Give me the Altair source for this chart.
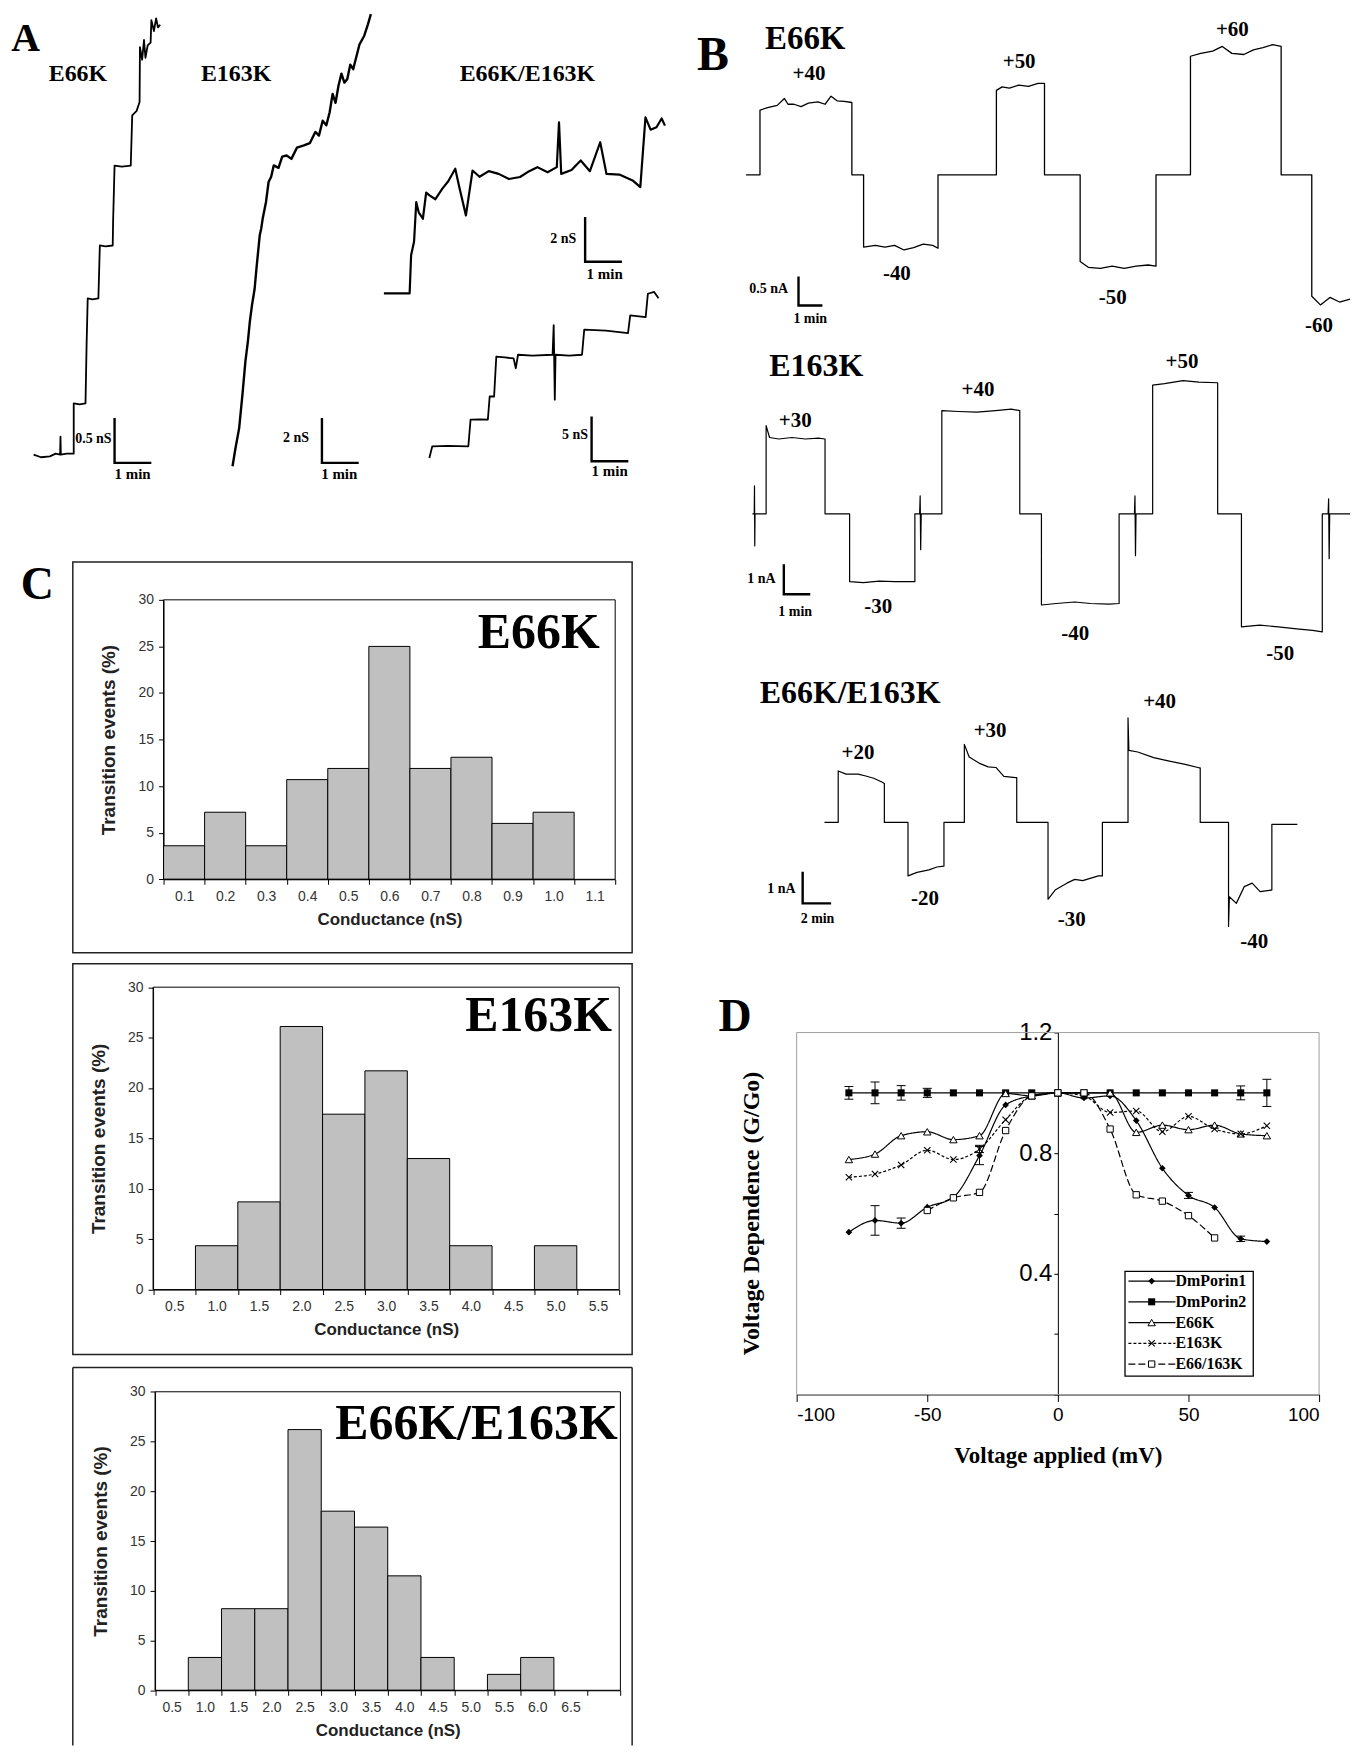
import altair as alt
import pandas as pd

OX, OY = 8, 8          # page margin -> chart origin
W, H = 1343, 1740
SERIF = "Liberation Serif"
SANS = "Liberation Sans"

# ---------------- Panel A : conductance traces (time in min, conductance in nS) -------------
A1_T = [0.00, 0.20, 0.44, 0.60, 0.72, 0.73, 0.74, 0.90, 1.09, 1.09, 1.25, 1.41, 1.44, 1.47, 1.60, 1.76, 1.80, 1.95,
        2.15, 2.16, 2.20, 2.40, 2.64, 2.68, 2.80, 2.88, 2.89, 2.95, 3.00, 3.04, 3.10, 3.18, 3.20, 3.27, 3.33, 3.38, 3.44]
A1_G = [0.00, -0.03, -0.02, 0.01, 0.00, 0.20, 0.00, 0.01, 0.01, 0.57, 0.56, 0.57, 1.23, 1.74, 1.73, 1.74, 2.33, 2.32,
        2.33, 2.59, 3.22, 3.21, 3.22, 3.78, 3.83, 3.93, 4.54, 4.40, 4.62, 4.42, 4.56, 4.59, 4.84, 4.72, 4.86, 4.76, 4.79]

A2_T = [0.00, 0.08, 0.18, 0.27, 0.35, 0.42, 0.47, 0.53, 0.60, 0.65, 0.74, 0.78, 0.82, 0.91, 0.98, 1.05, 1.12, 1.25,
        1.35, 1.47, 1.60, 1.75, 1.94, 2.10, 2.25, 2.35, 2.45, 2.55, 2.64, 2.72, 2.80, 2.88, 2.96, 3.04, 3.12, 3.20,
        3.28, 3.35, 3.45, 3.58, 3.68, 3.76]
A2_G = [0.00, 0.80, 1.70, 3.20, 4.67, 5.60, 6.44, 7.19, 7.90, 8.81, 10.30, 10.60, 11.04, 11.78, 12.67, 12.90, 13.41,
        13.30, 13.80, 13.85, 13.70, 14.20, 14.30, 14.40, 14.90, 14.74, 15.40, 15.20, 15.78, 16.60, 16.20, 16.96,
        17.50, 17.10, 17.26, 17.90, 17.70, 18.15, 18.80, 19.19, 19.70, 20.15]

A3_T = [0.00, 0.70, 0.74, 0.82, 0.88, 0.95, 1.06, 1.15, 1.24, 1.40, 1.59, 1.75, 1.94, 2.06, 2.23, 2.41, 2.60, 2.85,
        3.12, 3.40, 3.70, 3.95, 4.17, 4.45, 4.70, 4.76, 4.82, 5.10, 5.35, 5.60, 5.88, 6.05, 6.40, 6.76, 6.97, 7.11,
        7.25, 7.41, 7.55, 7.64]
A3_G = [0.00, 0.00, 1.70, 2.30, 4.07, 3.60, 3.33, 4.50, 4.37, 4.20, 4.67, 5.00, 5.56, 4.67, 3.48, 5.48, 5.20, 5.45,
        5.33, 5.10, 5.19, 5.45, 5.63, 5.40, 5.63, 7.63, 5.33, 5.50, 5.93, 5.45, 6.74, 5.33, 5.30, 5.04, 4.74, 7.85,
        7.30, 7.41, 7.80, 7.48]

A4_T = [0.00, 0.08, 0.50, 1.06, 1.12, 1.40, 1.59, 1.64, 1.76, 1.82, 2.05, 2.29, 2.35, 2.41, 2.80, 3.35, 3.38, 3.41,
        3.43, 3.80, 4.15, 4.21, 4.80, 5.40, 5.46, 5.88, 5.94, 6.11, 6.23]
A4_G = [0.00, 1.30, 1.35, 1.30, 4.26, 4.30, 4.26, 6.85, 6.85, 11.30, 11.20, 11.10, 10.00, 11.50, 11.40, 11.50, 14.80,
        6.50, 11.50, 11.40, 11.50, 14.30, 14.20, 13.90, 15.90, 15.70, 18.30, 18.50, 17.80]

# ---------------- Panel B : current traces (time in min, current in nA) ----------------------
B1_T = [0, 0.53, 0.58, 0.58, 0.90, 1.30, 1.60, 1.75, 2.00, 2.30, 2.60, 3.00, 3.30, 3.55, 3.80, 4.10, 4.42,
        4.42, 4.91, 4.91, 5.40, 5.80, 6.20, 6.60, 7.00, 7.40, 7.80, 8.02, 8.02, 10.46, 10.46, 10.70, 11.00, 11.40,
        11.80, 12.20, 12.47, 12.47, 13.96, 13.96, 14.30, 14.80, 15.30, 15.80, 16.30, 16.80, 17.13, 17.13, 18.57,
        18.57, 19.00, 19.50, 19.90, 20.30, 20.80, 21.20, 21.60, 22.00, 22.36, 22.36, 23.64, 23.64, 24.00, 24.40,
        24.80, 25.24]
B1_I = [0, 0, 0, 1.12, 1.16, 1.20, 1.32, 1.22, 1.22, 1.18, 1.24, 1.26, 1.22, 1.36, 1.28, 1.27, 1.25,
        0, 0, -1.25, -1.22, -1.25, -1.22, -1.30, -1.26, -1.20, -1.22, -1.27, 0, 0, 1.46, 1.52, 1.50, 1.55,
        1.53, 1.58, 1.58, 0, 0, -1.50, -1.60, -1.62, -1.58, -1.62, -1.58, -1.56, -1.58, 0, 0,
        2.05, 2.10, 2.14, 2.22, 2.10, 2.08, 2.16, 2.20, 2.25, 2.22, 0, 0, -2.10, -2.25, -2.12,
        -2.20, -2.15]

B2_T = [0, 0.07, 0.08, 0.09, 0.10, 0.52, 0.52, 0.65, 1.00, 1.50, 2.00, 2.50, 2.75, 2.75, 3.68, 3.68, 4.20, 4.80,
        5.40, 6.15, 6.15, 6.33, 6.35, 6.37, 6.39, 7.17, 7.17, 7.80, 8.50, 9.20, 9.80, 10.12, 10.12, 10.94, 10.94,
        11.50, 12.20, 12.80, 13.50, 13.88, 13.88, 14.46, 14.48, 14.50, 14.52, 15.15, 15.15, 15.60, 16.30, 16.90,
        17.61, 17.61, 18.51, 18.51, 19.20, 19.90, 20.60, 21.20, 21.57, 21.57, 21.79, 21.81, 21.83, 21.85, 22.62]
B2_I = [0, 0, 0.93, -1.07, 0, 0, 2.95, 2.55, 2.50, 2.55, 2.50, 2.53, 2.50, 0, 0, -2.27, -2.30, -2.25,
        -2.27, -2.27, 0, 0, 0.60, -1.20, 0, 0, 3.45, 3.42, 3.40, 3.45, 3.50, 3.45, 0, 0, -3.05,
        -3.00, -2.95, -3.00, -3.02, -3.00, 0, 0, 0.60, -1.40, 0, 0, 4.30, 4.35, 4.45, 4.40,
        4.38, 0, 0, -3.78, -3.72, -3.78, -3.85, -3.90, -3.95, 0, 0, 0.50, -1.50, 0, 0]

B3_T = [0, 0.97, 0.97, 1.53, 2.37, 2.92, 3.48, 4.09, 4.23, 4.23, 5.90, 5.90, 6.54, 7.38, 7.94, 8.44, 8.44,
        9.88, 9.88, 10.22, 11.00, 11.56, 12.11, 12.67, 13.50, 13.58, 13.58, 15.79, 15.79, 16.29, 17.12, 17.68,
        18.24, 19.35, 19.63, 19.63, 21.44, 21.44, 21.50, 22.13, 23.25, 24.36, 25.48, 26.45, 26.54, 26.54,
        28.54, 28.54, 28.60, 29.09, 29.65, 30.21, 30.77, 31.55, 31.60, 31.60, 33.40]
B3_I = [0, 0, 1.63, 1.53, 1.53, 1.47, 1.40, 1.27, 1.23, 0, 0, -1.69, -1.58, -1.50, -1.41, -1.38, 0,
        0, 2.47, 2.07, 1.86, 1.76, 1.74, 1.46, 1.42, 1.42, 0, 0, -2.43, -2.14, -1.92, -1.80,
        -1.84, -1.69, -1.69, 0, 0, 3.31, 2.28, 2.23, 2.05, 1.94, 1.84, 1.73, 1.73, 0,
        0, -3.29, -2.35, -2.56, -2.03, -1.92, -2.19, -2.14, -2.14, -0.06, -0.06]

# scale bars (time, value) for each trace: vertical then horizontal leg
A1_BAR = ([2.20, 2.20, 3.20], [0.407, -0.093, -0.093])
A2_BAR = ([2.43, 2.43, 3.43], [2.15, 0.15, 0.15])
A3_BAR = ([5.47, 5.47, 6.47], [3.41, 1.41, 1.41])
A4_BAR = ([4.41, 4.41, 5.41], [4.63, -0.37, -0.37])
B1_BAR = ([2.19, 2.19, 3.19], [-1.76, -2.26, -2.26])
B2_BAR = ([1.19, 1.19, 2.19], [-1.69, -2.69, -2.69])
B3_BAR = ([-1.54, -1.54, 0.47], [-1.56, -2.56, -2.56])

# annotation texts: (text, time, value, font size, align)
A1_LAB = [("A", -0.22, 4.50, 40, "center"), ("E66K", 0.41, 4.16, 24, "left"),
          ("0.5 nS", 2.12, 0.13, 14, "right"), ("1 min", 2.20, -0.27, 15, "left"),
          ("C", 0.10, -1.61, 46, "center")]
A2_LAB = [("E163K", -0.86, 17.16, 24, "left"), ("2 nS", 2.08, 1.07, 14, "right"),
          ("1 min", 2.41, -0.55, 15, "left")]
A3_LAB = [("E66K/E163K", 2.06, 9.45, 24, "left"), ("2 nS", 5.23, 2.27, 14, "right"),
          ("1 min", 5.51, 0.64, 15, "left")]
A4_LAB = [("5 nS", 4.31, 2.11, 14, "right"), ("1 min", 4.41, -2.03, 15, "left")]
B1_LAB = [("B", -1.39, 1.82, 48, "center"), ("E66K", 0.79, 2.17, 33, "left"),
          ("+40", 2.63, 1.64, 21, "center"), ("-40", 6.30, -1.82, 21, "center"),
          ("+50", 11.41, 1.84, 21, "center"), ("-50", 15.32, -2.24, 21, "center"),
          ("+60", 20.32, 2.40, 21, "center"), ("-60", 23.94, -2.71, 21, "center"),
          ("0.5 nA", 1.75, -2.05, 14, "right"), ("1 min", 2.68, -2.57, 14, "center")]
B2_LAB = [("E163K", 0.64, 4.61, 32, "left"),
          ("+30", 1.62, 2.89, 21, "center"), ("-30", 4.76, -3.33, 21, "center"),
          ("+40", 8.54, 3.95, 21, "center"), ("-40", 12.22, -4.22, 21, "center"),
          ("+50", 16.26, 4.89, 21, "center"), ("-50", 19.98, -4.89, 21, "center"),
          ("1 nA", 0.88, -2.30, 14, "right"), ("1 min", 1.62, -3.41, 14, "center")]
B3_LAB = [("E66K/E163K", -4.57, 3.79, 32, "left"),
          ("+20", 2.37, 2.02, 21, "center"), ("-20", 7.10, -2.61, 21, "center"),
          ("+30", 11.70, 2.70, 21, "center"), ("-30", 17.46, -3.27, 21, "center"),
          ("+40", 23.67, 3.63, 21, "center"), ("-40", 30.35, -3.97, 21, "center"),
          ("1 nA", -2.04, -2.22, 14, "right"), ("2 min", -0.49, -3.19, 14, "center")]

# ---------------- Panel C : histograms ------------------------------------------------------
C1_CATS = ["0.1", "0.2", "0.3", "0.4", "0.5", "0.6", "0.7", "0.8", "0.9", "1.0", "1.1"]
C1_VALS = [3.6, 7.2, 3.6, 10.7, 11.9, 25.0, 11.9, 13.1, 6.0, 7.2, 0]
C2_CATS = ["0.5", "1.0", "1.5", "2.0", "2.5", "3.0", "3.5", "4.0", "4.5", "5.0", "5.5"]
C2_VALS = [0, 4.35, 8.7, 26.1, 17.4, 21.7, 13.0, 4.35, 0, 4.35, 0]
C3_CATS = ["0.5", "1.0", "1.5", "2.0", "2.5", "3.0", "3.5", "4.0", "4.5", "5.0", "5.5", "6.0", "6.5", " "]
C3_VALS = [0, 3.3, 8.2, 8.2, 26.2, 18.0, 16.4, 11.5, 3.3, 0, 1.6, 3.3, 0, 0]
C_YTICKS = [0, 5, 10, 15, 20, 25, 30]

# ---------------- Panel D : voltage dependence ----------------------------------------------
D_SERIES = ["DmPorin1", "DmPorin2", "E66K", "E163K", "E66/163K"]
D_X = [-80, -70, -60, -50, -40, -30, -20, -10, 0, 10, 20, 30, 40, 50, 60, 70, 80]
D_X5 = [-50, -40, -30, -20, -10, 0, 10, 20, 30, 40, 50, 60]
D_P1 = [0.538, 0.577, 0.568, 0.621, 0.654, 0.792, 0.96, 0.99, 1.0, 0.983, 0.99, 0.908, 0.75, 0.66, 0.62, 0.516, 0.507]
D_P2 = [1.0] * 17
D_E66 = [0.779, 0.797, 0.858, 0.871, 0.845, 0.858, 0.998, 0.99, 1.0, 1.0, 1.0, 0.869, 0.893, 0.878, 0.893, 0.864, 0.858]
D_E163 = [0.72, 0.731, 0.761, 0.81, 0.779, 0.814, 0.911, 0.99, 1.0, 0.99, 0.935, 0.94, 0.871, 0.922, 0.88, 0.864, 0.891]
D_DBL = [0.61, 0.652, 0.67, 0.875, 0.99, 1.0, 1.0, 0.88, 0.662, 0.641, 0.593, 0.519]
D_ERR_SER = ["DmPorin2"] * 6 + ["DmPorin1"] * 5 + ["E163K"]
D_ERR_X = [-80, -70, -60, -50, 70, 80, -70, -60, -30, 50, 70, -30]
D_ERR_Y = [1.0, 1.0, 1.0, 1.0, 1.0, 1.0, 0.577, 0.568, 0.792, 0.66, 0.516, 0.814]
D_ERR_E = [0.021, 0.036, 0.024, 0.015, 0.023, 0.045, 0.049, 0.017, 0.03, 0.01, 0.009, 0.012]
D_XDOM = [-100, 100]
D_YDOM = [0, 1.2]
D_YTICKS = [0, 0.2, 0.4, 0.6, 0.8, 1.0, 1.2]
D_XTICKS = [-100, -50, 0, 50, 100]
D_DASH = [[1, 0], [1, 0], [1, 0], [3, 2], [7, 3]]
# legend box placement in data units of panel D (x in mV, y in G/Go)
LEG_BOX = (25.7, 74.8, 0.061, 0.408)
LEG_LINE = (27.0, 45.0)
LEG_MARK_X = 35.9
LEG_TEXT_X = 45.0
LEG_TOP, LEG_STEP = 0.376, 0.0688


# =================================== builders ================================================
def trace_layers(t, v, origin, per, bar, labels, width):
    (ox, oy), (kx, ky) = origin, per
    sx = alt.Scale(domain=[0, 1], range=[ox - OX, ox - OX + kx], zero=False, nice=False)
    sy = alt.Scale(domain=[0, 1], range=[oy - OY, oy - OY - ky], zero=False, nice=False)
    X = alt.X("t:Q", scale=sx, axis=None)
    Y = alt.Y("v:Q", scale=sy, axis=None)
    layers = []
    df = pd.DataFrame({"t": t, "v": v, "i": list(range(len(t)))})
    layers.append(alt.Chart(df).mark_line(color="black", strokeWidth=width, strokeJoin="round")
                  .encode(x=X, y=Y, order=alt.Order("i:Q")))
    bdf = pd.DataFrame({"t": bar[0], "v": bar[1], "i": [0, 1, 2]})
    layers.append(alt.Chart(bdf).mark_line(color="black", strokeWidth=2.4)
                  .encode(x=X, y=Y, order=alt.Order("i:Q")))
    ldf = pd.DataFrame(labels, columns=["text", "t", "v", "size", "align"])
    for al in ["left", "center", "right"]:
        sub = ldf[ldf["align"] == al]
        if len(sub):
            layers.append(alt.Chart(sub).mark_text(align=al, baseline="alphabetic", font=SERIF,
                                                   fontWeight="bold", color="black")
                          .encode(x=X, y=Y, text="text:N", size=alt.Size("size:Q", scale=None)))
    return layers


def hist_layers(cats, vals, geom, box, label, label_val, label_dx, open_bottom=False):
    l, r, t, b = geom
    sx = alt.Scale(domain=cats, range=[l - OX, r - OX], paddingInner=0, paddingOuter=0)
    sy = alt.Scale(domain=[0, 30], range=[b - OY, t - OY], zero=False, nice=False)
    xaxis = alt.Axis(orient="bottom", offset=(b - OY) - H, tickBand="extent", labelAngle=0,
                     labelFont=SANS, labelFontSize=14, labelColor="#333333", tickSize=5,
                     tickColor="black", domainColor="black", labelPadding=5, grid=False,
                     title="Conductance (nS)", titleFont=SANS, titleFontSize=17, titleFontWeight="bold",
                     titleColor="#222222", titleY=40, titleBaseline="middle")
    yaxis = alt.Axis(orient="left", offset=-(l - OX), values=C_YTICKS, tickSize=5, tickColor="black",
                     domainColor="black", labelFont=SANS, labelFontSize=14, labelColor="#333333",
                     labelPadding=5, grid=False, title="Transition events (%)", titleFont=SANS,
                     titleFontSize=19, titleFontWeight="bold", titleColor="#222222", titleX=-55,
                     titleY=(t + b) / 2 - OY, titleAngle=270, titleAlign="center",
                     titleBaseline="middle")
    df = pd.DataFrame({"cat": cats, "val": vals, "base": [0] * len(cats)})
    bars = (alt.Chart(df).transform_filter("datum.val > 0")
            .mark_bar(fill="#c0c0c0", stroke="black", strokeWidth=1, opacity=1)
            .encode(x=alt.X("cat:N", scale=sx, axis=xaxis, sort=None),
                    y=alt.Y("val:Q", scale=sy, axis=yaxis), y2="base:Q"))
    one = pd.DataFrame({"k": [0]})
    border = alt.Chart(one).mark_rect(fillOpacity=0, stroke="black", strokeWidth=1).encode(
        x=alt.value(l - OX), x2=alt.value(r - OX), y=alt.value(t - OY), y2=alt.value(b - OY))
    bx0, by0, bx1, by1 = box
    layers = []
    if open_bottom:
        for enc in [dict(x=alt.value(bx0 - OX), x2=alt.value(bx1 - OX), y=alt.value(by0 - OY)),
                    dict(x=alt.value(bx0 - OX), y=alt.value(by0 - OY), y2=alt.value(H)),
                    dict(x=alt.value(bx1 - OX), y=alt.value(by0 - OY), y2=alt.value(H))]:
            layers.append(alt.Chart(one).mark_rule(color="#222222", strokeWidth=1.5).encode(**enc))
    else:
        layers.append(alt.Chart(one).mark_rect(fillOpacity=0, stroke="#222222", strokeWidth=1.5).encode(
            x=alt.value(bx0 - OX), x2=alt.value(bx1 - OX), y=alt.value(by0 - OY), y2=alt.value(by1 - OY)))
    ldf = pd.DataFrame({"cat": [cats[-1]], "val": [label_val], "text": [label]})
    big = (alt.Chart(ldf).mark_text(align="right", baseline="alphabetic", font=SERIF, fontWeight="bold",
                                    fontSize=50, dx=label_dx, color="black")
           .encode(x=alt.X("cat:N", scale=sx, axis=None), y=alt.Y("val:Q", scale=sy, axis=None),
                   text="text:N"))
    return layers + [bars, border, big]


def d_layers():
    sx = alt.Scale(domain=D_XDOM, range=[799 - OX, 1323 - OX], zero=False, nice=False)
    sy = alt.Scale(domain=D_YDOM, range=[1396 - OY, 1033 - OY], zero=False, nice=False)
    xaxis = alt.Axis(orient="bottom", offset=(1396 - OY) - H, values=D_XTICKS, tickSize=7,
                     labelExpr="datum.value + ''",
                     tickColor="black", domainColor="black", labelFont=SANS, labelFontSize=19,
                     labelColor="black", labelPadding=4, grid=False, title="Voltage applied (mV)",
                     titleFont=SERIF, titleFontSize=23, titleFontWeight="bold", titleColor="black",
                     titleY=61, titleBaseline="middle")
    yaxis = alt.Axis(orient="left", offset=-(1061 - OX), values=D_YTICKS, format=".1f",
                     labelExpr="(datum.value == 0.4 || datum.value == 0.8 || datum.value == 1.2) ? datum.label : ''",
                     tickSize=4, tickColor="black", domainColor="black", labelFont=SANS, labelFontSize=24,
                     labelColor="black", labelPadding=2, grid=False, title="Voltage Dependence (G/Go)",
                     titleFont=SERIF, titleFontSize=24, titleFontWeight="bold", titleColor="black",
                     titleX=753.5 - 1061, titleY=1214 - OY, titleAngle=270, titleAlign="center",
                     titleBaseline="middle")
    X = alt.X("x:Q", scale=sx, axis=None)
    Y = alt.Y("y:Q", scale=sy, axis=None)
    dash = alt.StrokeDash("series:N", legend=None, scale=alt.Scale(domain=D_SERIES, range=D_DASH))
    fdf = pd.DataFrame({"x": [D_XDOM[0]], "x2": [D_XDOM[1]], "y": [D_YDOM[0]], "y2": [D_YDOM[1]]})
    frame = alt.Chart(fdf).mark_rect(fillOpacity=0, stroke="#a0a0a0", strokeWidth=1).encode(
        x=X, x2="x2:Q", y=Y, y2="y2:Q")
    axes_holder = alt.Chart(fdf).mark_rule(opacity=0).encode(
        x=alt.X("x:Q", scale=sx, axis=xaxis), y=alt.Y("y:Q", scale=sy, axis=yaxis))

    rows = []
    for name, xs, ys in [("DmPorin1", D_X, D_P1), ("DmPorin2", D_X, D_P2), ("E66K", D_X, D_E66),
                         ("E163K", D_X, D_E163), ("E66/163K", D_X5, D_DBL)]:
        for a, b in zip(xs, ys):
            rows.append({"series": name, "x": a, "y": b})
    ddf = pd.DataFrame(rows)
    lines = alt.Chart(ddf).mark_line(interpolate="monotone", color="black", strokeWidth=1.2).encode(
        x=X, y=Y, detail="series:N", strokeDash=dash)
    edf = pd.DataFrame({"series": D_ERR_SER, "x": D_ERR_X,
                        "lo": [a - e for a, e in zip(D_ERR_Y, D_ERR_E)],
                        "hi": [a + e for a, e in zip(D_ERR_Y, D_ERR_E)]})
    ebar = alt.Chart(edf).mark_rule(color="black", strokeWidth=1).encode(
        x=X, y=alt.Y("lo:Q", scale=sy, axis=None), y2="hi:Q")
    cap_lo = alt.Chart(edf).mark_tick(orient="horizontal", size=9, thickness=1, color="black", opacity=1).encode(
        x=X, y=alt.Y("lo:Q", scale=sy, axis=None))
    cap_hi = alt.Chart(edf).mark_tick(orient="horizontal", size=9, thickness=1, color="black", opacity=1).encode(
        x=X, y=alt.Y("hi:Q", scale=sy, axis=None))

    styles = {
        "DmPorin1": dict(shape="diamond", filled=True, color="black", size=45),
        "DmPorin2": dict(shape="square", filled=True, color="black", size=50),
        "E66K": dict(shape="triangle-up", filled=True, fill="white", stroke="black", strokeWidth=1, size=55),
        "E163K": dict(shape="M-1,-1L1,1M-1,1L1,-1", filled=False, stroke="black", strokeWidth=1.1, size=40),
        "E66/163K": dict(shape="square", filled=True, fill="white", stroke="black", strokeWidth=1, size=40),
    }

    def pts(df, name, xf):
        return (alt.Chart(df).transform_filter(alt.datum.series == name)
                .mark_point(opacity=1, **styles[name])
                .encode(x=alt.X(f"{xf}:Q", scale=sx, axis=None), y=Y))

    point_layers = [pts(ddf, s, "x") for s in D_SERIES]

    # legend (drawn inside the plot, like the original Excel legend)
    ly = [LEG_TOP - i * LEG_STEP for i in range(len(D_SERIES))]
    n = len(D_SERIES)
    legdf = pd.DataFrame({"series": D_SERIES, "y": ly, "x0": [LEG_LINE[0]] * n, "x1": [LEG_LINE[1]] * n,
                          "xm": [LEG_MARK_X] * n, "xt": [LEG_TEXT_X] * n})
    bdf = pd.DataFrame({"x": [LEG_BOX[0]], "x2": [LEG_BOX[1]], "y": [LEG_BOX[2]], "y2": [LEG_BOX[3]]})
    leg_box = alt.Chart(bdf).mark_rect(fill="white", stroke="black", strokeWidth=1.3).encode(
        x=X, x2="x2:Q", y=Y, y2="y2:Q")
    leg_lines = alt.Chart(legdf).mark_rule(color="black", strokeWidth=1.2).encode(
        x=alt.X("x0:Q", scale=sx, axis=None), x2="x1:Q", y=Y, strokeDash=dash)
    leg_pts = [pts(legdf, s, "xm") for s in D_SERIES]
    leg_text = alt.Chart(legdf).mark_text(align="left", baseline="middle", font=SERIF, fontWeight="bold",
                                          fontSize=16, color="black").encode(
        x=alt.X("xt:Q", scale=sx, axis=None), y=Y, text="series:N")

    letter = alt.Chart(pd.DataFrame({"x": [-123.6], "y": [1.204], "text": ["D"]})).mark_text(
        align="center", baseline="alphabetic", font=SERIF, fontWeight="bold", fontSize=46, color="black").encode(
        x=X, y=Y, text="text:N")
    return ([frame, lines, ebar, cap_lo, cap_hi] + point_layers +
            [leg_box, leg_lines] + leg_pts + [leg_text, letter, axes_holder])


layers = []
layers += trace_layers(A1_T, A1_G, (33.7, 453.3), (36.9, 90), A1_BAR, A1_LAB, 1.8)
layers += trace_layers(A2_T, A2_G, (233.2, 465.0), (36.9, 22.5), A2_BAR, A2_LAB, 2.4)
layers += trace_layers(A3_T, A3_G, (385.0, 291.7), (36.9, 22.5), A3_BAR, A3_LAB, 2.2)
layers += trace_layers(A4_T, A4_G, (430.6, 456.7), (36.9, 9.0), A4_BAR, A4_LAB, 1.8)
layers += trace_layers(B1_T, B1_I, (748.3, 172.7), (24.0, 58.0), B1_BAR, B1_LAB, 1.3)
layers += trace_layers(B2_T, B2_I, (754.6, 512.7), (26.5, 30.0), B2_BAR, B2_LAB, 1.2)
layers += trace_layers(B3_T, B3_I, (826.9, 822.3), (14.2, 31.7), B3_BAR, B3_LAB, 1.2)
layers += hist_layers(C1_CATS, C1_VALS, (164, 617, 599, 879.3), (73, 561, 634, 953), "E66K", 24.8, 5)
layers += hist_layers(C2_CATS, C2_VALS, (153.5, 621, 987.5, 1290.8), (73, 964, 634, 1356), "E163K", 25.7, 14)
layers += hist_layers(C3_CATS, C3_VALS, (155.5, 622.2, 1393.3, 1692.7), (73, 1369, 634, 1759),
                      "E66K/E163K", 25.3, 14, open_bottom=True)
layers += d_layers()

chart = (alt.layer(*layers)
         .resolve_scale(x="independent", y="independent")
         .properties(width=W, height=H, autosize=alt.AutoSizeParams(type="pad"), padding=0,
                     background="white")
         .configure_view(stroke=None))

chart.save("out.html", embed_options={"renderer": "svg", "actions": False})
